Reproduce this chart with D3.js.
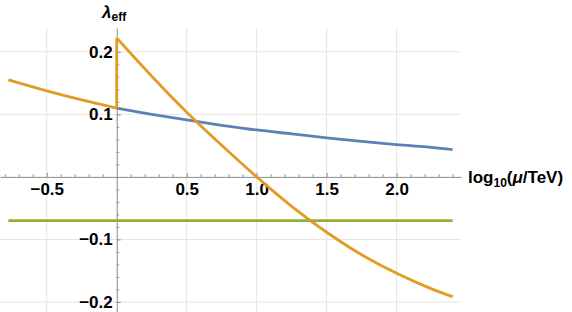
<!DOCTYPE html>
<html>
<head>
<meta charset="utf-8">
<script src="https://cdn.jsdelivr.net/npm/d3@7"></script>
<style>
  html, body { margin: 0; padding: 0; background: #fff; }
  svg { display: block; }
  text { font-family: "Liberation Sans", Arial, sans-serif; font-weight: bold; fill: #000; }
</style>
</head>
<body>
<svg id="chart" width="572" height="312"></svg>
<script>
// ---- data ----
const blueX = [0, 0.25, 0.5, 0.75, 1.0, 1.25, 1.5, 1.75, 2.0, 2.25, 2.4];
const blueY = [0.110, 0.100, 0.091, 0.0825, 0.075, 0.0688, 0.0625, 0.0568, 0.0517, 0.0473, 0.0437];

const orangeLeftX = [-0.774, -0.5, -0.25, 0];
const orangeLeftY = [0.155, 0.1375, 0.123, 0.110];

const orangeRightX = [0, 0.25, 0.5, 0.75, 1.0, 1.25, 1.5, 1.75, 2.0, 2.25, 2.4];
const orangeRightY = [0.222, 0.161, 0.1035, 0.0505, 0.0, -0.047, -0.0885, -0.1245, -0.154, -0.179, -0.1915];

const greenX = [-0.774, 2.4];
const greenY = [-0.070, -0.070];

const xMajorTicks = [-0.5, 0.5, 1.0, 1.5, 2.0];
const xTickLabels = ["\u22120.5", "0.5", "1.0", "1.5", "2.0"];
const yMajorTicks = [-0.2, -0.1, 0.1, 0.2];
const yTickLabels = ["\u22120.2", "\u22120.1", "0.1", "0.2"];
const xMinorTicks = [-0.8,-0.7,-0.6,-0.4,-0.3,-0.2,-0.1,0.1,0.2,0.3,0.4,0.6,0.7,0.8,0.9,1.1,1.2,1.3,1.4,1.6,1.7,1.8,1.9,2.1,2.2,2.3,2.4];
const yMinorTicks = [-0.22,-0.18,-0.16,-0.14,-0.12,-0.08,-0.06,-0.04,-0.02,0.02,0.04,0.06,0.08,0.12,0.14,0.16,0.18,0.22];

// ---- scales ----
const x = d3.scaleLinear().domain([-0.834, 2.46]).range([0, 461]);
const y = d3.scaleLinear().domain([0.238, -0.216]).range([28, 312]);

const svg = d3.select("#chart");

const colBlue = "#5E81B5", colOrange = "#E19C24", colGreen = "#8FB032";
const axisCol = "#8a8a8a", gridCol = "#e4e4e4";

// grid
const grid = svg.append("g");
grid.selectAll("line.vx").data(xMajorTicks).join("line")
  .attr("x1", d => x(d)).attr("x2", d => x(d))
  .attr("y1", y.range()[0]).attr("y2", y.range()[1])
  .attr("stroke", gridCol).attr("stroke-width", 1);
grid.selectAll("line.hy").data(yMajorTicks).join("line")
  .attr("y1", d => y(d)).attr("y2", d => y(d))
  .attr("x1", x.range()[0]).attr("x2", x.range()[1])
  .attr("stroke", gridCol).attr("stroke-width", 1);

// x axis
const xAxisG = svg.append("g").attr("transform", `translate(0,${y(0)})`);
xAxisG.call(d3.axisBottom(x).tickValues(xMajorTicks)
  .tickFormat((d, i) => xTickLabels[i]).tickSize(-4).tickSizeOuter(0).tickPadding(6));
const xMinorG = svg.append("g").attr("transform", `translate(0,${y(0)})`);
xMinorG.call(d3.axisBottom(x).tickValues(xMinorTicks).tickFormat("").tickSize(-2.5).tickSizeOuter(0));
xMinorG.select(".domain").remove();

// y axis
const yAxisG = svg.append("g").attr("transform", `translate(${x(0)},0)`);
yAxisG.call(d3.axisLeft(y).tickValues(yMajorTicks)
  .tickFormat((d, i) => yTickLabels[i]).tickSize(-4).tickSizeOuter(0).tickPadding(4));
const yMinorG = svg.append("g").attr("transform", `translate(${x(0)},0)`);
yMinorG.call(d3.axisLeft(y).tickValues(yMinorTicks).tickFormat("").tickSize(-2.5).tickSizeOuter(0));
yMinorG.select(".domain").remove();

svg.selectAll(".domain").attr("stroke", axisCol).attr("stroke-width", 1);
svg.selectAll(".tick line").attr("stroke", axisCol).attr("stroke-width", 1);
svg.selectAll(".tick text").style("font-family", '"Liberation Sans", Arial, sans-serif')
  .style("font-weight", "bold").style("font-size", "17px").attr("fill", "#000");

// curves
const line = d3.line().x(d => x(d[0])).y(d => y(d[1])).curve(d3.curveCatmullRom.alpha(0.5));
const straight = d3.line().x(d => x(d[0])).y(d => y(d[1]));
const zip = (a, b) => a.map((v, i) => [v, b[i]]);

const curves = svg.append("g").attr("fill", "none").attr("stroke-width", 2.8)
  .attr("stroke-linejoin", "round").attr("stroke-linecap", "butt");

curves.append("path").attr("d", straight(zip(greenX, greenY))).attr("stroke", colGreen);
curves.append("path").attr("d", line(zip(blueX, blueY))).attr("stroke", colBlue);
curves.append("path").attr("d", line(zip(orangeLeftX, orangeLeftY))).attr("stroke", colOrange);
curves.append("path")
  .attr("d", straight([[orangeLeftX[orangeLeftX.length - 1], orangeLeftY[orangeLeftY.length - 1]],
                       [orangeRightX[0], orangeRightY[0]]]))
  .attr("stroke", colOrange);
curves.append("path").attr("d", line(zip(orangeRightX, orangeRightY))).attr("stroke", colOrange);

// axis labels
const yl = svg.append("text").attr("x", 102).attr("y", 18).style("font-size", "17px");
yl.append("tspan").text("\u03BB").style("font-style", "italic");
yl.append("tspan").text("eff").attr("dy", 3).style("font-size", "12px");

const xl = svg.append("text").attr("x", 468).attr("y", 183).style("font-size", "17px");
xl.append("tspan").text("log");
xl.append("tspan").text("10").attr("dy", 4).style("font-size", "12px");
xl.append("tspan").text("(").attr("dy", -4);
xl.append("tspan").text("\u03BC").style("font-style", "italic");
xl.append("tspan").text("/TeV)");
</script>
</body>
</html>
